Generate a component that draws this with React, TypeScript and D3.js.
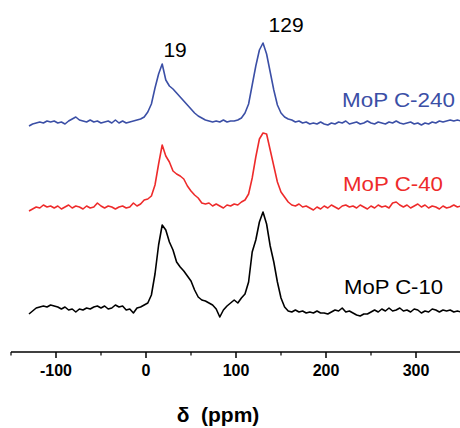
import React from "react";
import * as d3 from "d3";

// chemical shift grid (ppm), one sample every 4 ppm
const shifts = d3.range(-130, 351, 4);

// heights above each trace's own baseline (a.u.)
const mop240 = [
  -3, -1, 0, 1, 0, 2, 1, 2,
  0, 1, -1, 2, 4, 6, 3, 2,
  1, 3, 1, 2, 0, 1, 2, 0,
  3, 0, 2, 0, 1, 2, 3, 4,
  6, 11, 19, 35, 49, 59, 43, 37,
  34, 30, 26, 22, 18, 14, 10, 7,
  5, 3, 2, 1, 2, 1, 3, 1,
  2, 2, 3, 5, 10, 19, 38, 57,
  73, 80, 69, 51, 33, 18, 10, 6,
  4, 3, 1, 2, 0, 1, -1, 0,
  -1, 1, -1, -2, 0, -1, 1, 0,
  2, -1, 0, 1, -1, 0, 2, 0,
  -1, 1, 0, -1, 1, 0, 2, 0,
  -1, 0, 1, -1, 0, -2, 0, -1,
  1, 0, 2, 1, 2, 3, 2, 3,
  2,
];

const mop40 = [
  -4, -2, 0, -1, 2, 0, 1, -1,
  1, -2, 0, 2, -1, 1, 0, -2,
  1, -1, 0, 4, 1, -1, 1, 0,
  -2, 0, 1, -1, 0, 4, 1, 3,
  7, 8, 11, 22, 43, 62, 51, 45,
  36, 33, 31, 28, 21, 16, 12, 9,
  4, 3, 4, 1, 3, 1, -1, 2,
  1, 3, 2, 5, 7, 13, 29, 50,
  68, 74, 73, 57, 41, 25, 15, 10,
  5, 2, 1, 3, 0, 1, -1, -3,
  0, -2, 1, -1, 2, 0, -2, 1,
  2, 0, 1, -1, 2, 0, -2, 1,
  -1, 2, 0, 1, -1, 4, 5, 2,
  0, 2, -1, 1, 3, 0, 2, -1,
  1, 0, -2, 1, -1, 0, 2, 0,
  1,
];

const mop10 = [
  -4, -1, 2, 3, 4, 3, 5, 4,
  3, 1, 3, 0, 1, -2, 1, 0,
  2, 1, 3, 4, 2, 4, 1, 2,
  5, 3, 4, 0, 1, -3, 2, 3,
  5, 7, 15, 36, 65, 85, 80, 68,
  60, 48, 43, 39, 34, 29, 20, 13,
  10, 9, 7, 5, 1, -7, 0, 4,
  7, 10, 7, 12, 16, 28, 58, 70,
  88, 98, 86, 64, 48, 28, 12, 3,
  -1, -2, 0, -2, -1, -3, -2, -3,
  -1, -3, -3, -4, -2, 0, -1, 2,
  -2, -1, -3, -5, -6, -4, -4, -2,
  0, -2, 1, -1, 2, -1, 0, 2,
  -1, 0, -2, 1, 0, -3, -1, -2,
  1, 0, -2, 0, -1, 0, -2, -1,
  -2,
];

const seriesNames = ["MoP C-240", "MoP C-40", "MoP C-10"];
const seriesData = [mop240, mop40, mop10];
const stackOffsets = [229, 145, 42];
const seriesColors = ["#3b4fa6", "#ee2b2b", "#000000"];

const peakShifts = [19, 129];
const peakTexts = ["19", "129"];
const peakHeights = [229 + 59, 229 + 80];

const majorTicks = [-100, 0, 100, 200, 300];
const minorTicks = [-150, -50, 50, 150, 250];

const W = 460;
const H = 428;
const FONT = "'Liberation Sans', Arial, Helvetica, sans-serif";

export default function App() {
  const x = d3.scaleLinear().domain([-150, 350]).range([11, 461]);
  const y = d3.scaleLinear().domain([0, 340]).range([352, 12]);
  const axisY = y(0);

  const line = d3
    .line<[number, number]>()
    .x((d) => x(d[0]))
    .y((d) => y(d[1]));

  const legendX = [342, 343, 344];
  const legendW = [113, 100, 99];
  const labelDx = [12, 24];
  const labelDy = [7, 11];

  return (
    <svg
      width={W}
      height={H}
      style={{ position: "absolute", left: 0, top: 0, background: "#fff" }}
      fontFamily={FONT}
    >
      {seriesData.map((vals, i) => {
        const pts: [number, number][] = vals
          .slice(0, shifts.length)
          .map((v, j) => [shifts[j], v + stackOffsets[i]]);
        return (
          <path
            key={seriesNames[i]}
            d={line(pts) || ""}
            fill="none"
            stroke={seriesColors[i]}
            strokeWidth={1.6}
            strokeLinejoin="round"
          />
        );
      })}

      {seriesNames.map((name, i) => (
        <text
          key={name}
          x={legendX[i]}
          y={y(stackOffsets[i]) - 16}
          fontSize={20}
          fill={seriesColors[i]}
          textLength={legendW[i]}
          lengthAdjust="spacingAndGlyphs"
        >
          {name}
        </text>
      ))}

      {peakTexts.map((t, i) => (
        <text
          key={t}
          x={x(peakShifts[i]) + labelDx[i]}
          y={y(peakHeights[i]) - labelDy[i]}
          fontSize={21}
          textAnchor="middle"
          fill="#000"
        >
          {t}
        </text>
      ))}

      {/* x axis */}
      <line x1={11} x2={W} y1={axisY} y2={axisY} stroke="#000" strokeWidth={1.5} />
      {majorTicks.map((t) => (
        <g key={t}>
          <line x1={x(t)} x2={x(t)} y1={axisY} y2={axisY + 6} stroke="#000" strokeWidth={1.5} />
          <text
            x={x(t)}
            y={axisY + 24}
            fontSize={16}
            fontWeight="bold"
            textAnchor="middle"
          >
            {t}
          </text>
        </g>
      ))}
      {minorTicks.map((t) => (
        <line key={t} x1={x(t)} x2={x(t)} y1={axisY} y2={axisY + 3.5} stroke="#000" strokeWidth={1.2} />
      ))}
      <text x={218} y={422} fontSize={21} fontWeight="bold" textAnchor="middle" xmlSpace="preserve">
        δ  (ppm)
      </text>
    </svg>
  );
}
